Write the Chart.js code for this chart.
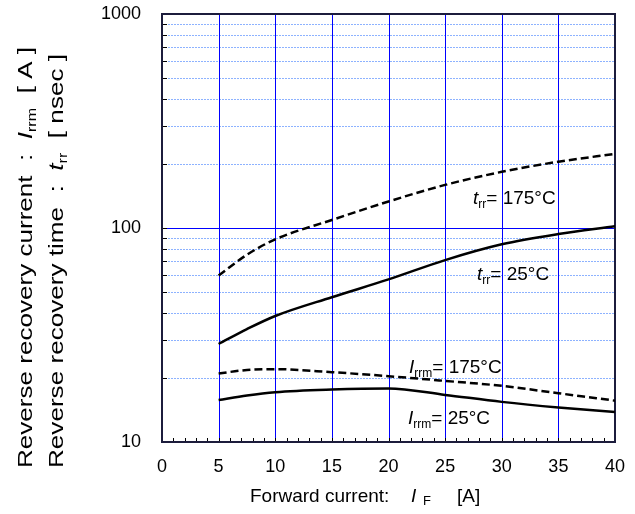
<!DOCTYPE html>
<html><head><meta charset="utf-8">
<script src="https://cdn.jsdelivr.net/npm/chart.js@4/dist/chart.umd.min.js"></script>
<style>html,body{margin:0;padding:0;background:#fff}</style>
</head><body>
<canvas id="c" width="635" height="514"></canvas>
<script>
// ---- data ----
const forwardCurrent = [5, 7.5, 10, 15, 20, 25, 30, 35, 40];
const trr175 = [60, 75, 88.5, 109, 133, 159, 183, 204, 222];
const trr25 = [28.7, 33.7, 38.8, 47.5, 57.5, 70.8, 83.9, 93.7, 101.8];
const irrm175 = [20.9, 21.7, 21.9, 21.2, 20.3, 19.3, 18.3, 16.9, 15.6];
const irrm25 = [15.7, 16.5, 17.1, 17.6, 17.8, 16.6, 15.4, 14.5, 13.8];
const xTickLabels = [0, 5, 10, 15, 20, 25, 30, 35, 40];
const yTickLabels = [10, 100, 1000];

const FONT = '"Liberation Sans", Arial, sans-serif';
const pts = arr => forwardCurrent.map((x, i) => ({x: x, y: arr[i]}));

function richWidth(ctx, parts, size, subSize) {
  let w = 0;
  for (const p of parts) {
    ctx.font = (p.italic ? 'italic ' : '') + (p.sub ? subSize : size) + 'px ' + FONT;
    w += ctx.measureText(p.t).width;
  }
  return w;
}
function drawRich(ctx, x, y, parts, size, subSize, subDy) {
  let cx = x;
  for (const p of parts) {
    const fs = p.sub ? subSize : size;
    ctx.font = (p.italic ? 'italic ' : '') + fs + 'px ' + FONT;
    const px = (p.x !== undefined) ? p.x : cx;
    ctx.fillText(p.t, px, y + (p.sub ? subDy : 0));
    cx = px + ctx.measureText(p.t).width;
  }
}
function drawRotRich(ctx, x, y, parts, size, subSize, subDy, len) {
  ctx.save();
  ctx.translate(x, y);
  ctx.rotate(-Math.PI / 2);
  ctx.scale(len / richWidth(ctx, parts, size, subSize), 1);
  drawRich(ctx, 0, 0, parts, size, subSize, subDy);
  ctx.restore();
}

const decor = {
  id: 'decor',
  beforeDatasetsDraw(chart) {
    const ctx = chart.ctx, a = chart.chartArea;
    const xs = chart.scales.x, ys = chart.scales.y;
    ctx.save();
    // minor horizontal grid (dotted light blue)
    ctx.strokeStyle = '#8db2ff';
    ctx.lineWidth = 1;
    ctx.setLineDash([2, 1]);
    for (let d = 10; d < 1000; d *= 10) {
      for (let m = 2; m <= 9; m++) {
        const py = Math.round(ys.getPixelForValue(d * m)) + 0.5;
        ctx.beginPath(); ctx.moveTo(a.left, py); ctx.lineTo(a.right, py); ctx.stroke();
      }
    }
    ctx.setLineDash([]);
    // major horizontal
    ctx.strokeStyle = '#0000ff';
    const p100 = Math.round(ys.getPixelForValue(100)) + 0.5;
    ctx.beginPath(); ctx.moveTo(a.left, p100); ctx.lineTo(a.right, p100); ctx.stroke();
    // vertical grid
    for (let v = 5; v < 40; v += 5) {
      const px = Math.round(xs.getPixelForValue(v)) + 0.5;
      ctx.beginPath(); ctx.moveTo(px, a.top); ctx.lineTo(px, a.bottom); ctx.stroke();
    }
    // ticks
    ctx.strokeStyle = '#000';
    for (let d = 10; d < 1000; d *= 10) {
      for (let m = 1; m <= 9; m++) {
        const py = Math.round(ys.getPixelForValue(d * m)) + 0.5;
        ctx.beginPath(); ctx.moveTo(a.left, py); ctx.lineTo(a.left + 5, py); ctx.stroke();
      }
    }
    for (let v = 1; v < 40; v++) {
      const px = Math.round(xs.getPixelForValue(v)) + 0.5;
      ctx.beginPath(); ctx.moveTo(px, a.bottom); ctx.lineTo(px, a.bottom - 4); ctx.stroke();
    }
    // frame
    ctx.strokeStyle = '#1c1c3c';
    ctx.lineWidth = 2;
    ctx.strokeRect(a.left, a.top, a.right - a.left, a.bottom - a.top);
    ctx.restore();
  },
  afterDraw(chart) {
    const ctx = chart.ctx;
    ctx.save();
    ctx.fillStyle = '#000';
    ctx.textBaseline = 'alphabetic';
    ctx.textAlign = 'left';
    // curve labels
    drawRich(ctx, 473, 204, [{t: 't', italic: true}, {t: 'rr', sub: true}, {t: '= 175°C'}], 19, 12, 4);
    drawRich(ctx, 477, 280, [{t: 't', italic: true}, {t: 'rr', sub: true}, {t: '= 25°C'}], 19, 12, 4);
    drawRich(ctx, 409, 373, [{t: 'I', italic: true}, {t: 'rrm', sub: true}, {t: '= 175°C'}], 19, 12, 4);
    drawRich(ctx, 408, 424, [{t: 'I', italic: true}, {t: 'rrm', sub: true}, {t: '= 25°C'}], 19, 12, 4);
    // x title
    drawRich(ctx, 250, 502, [{t: 'Forward current:'}, {t: 'I', italic: true, x: 411}, {t: 'F', sub: true, x: 423}, {t: '[A]', x: 457}], 19, 13, 3);
    // y title (rotated, two lines)
    drawRotRich(ctx, 32, 468, [{t: 'Reverse recovery current  :  '}, {t: 'I', italic: true}, {t: 'rrm', sub: true}, {t: '  [ A ]'}], 21, 13, 4, 421);
    drawRotRich(ctx, 63, 468, [{t: 'Reverse recovery time  :  '}, {t: 't', italic: true}, {t: 'rr', sub: true}, {t: '  [ nsec ]'}], 21, 13, 4, 414);
    ctx.restore();
  }
};

const lineStyle = (dash) => ({
  borderColor: '#000', borderWidth: 2.5, borderDash: dash, pointRadius: 0,
  tension: 0.4, cubicInterpolationMode: 'monotone', fill: false
});

new Chart(document.getElementById('c'), {
  type: 'line',
  data: {
    datasets: [
      Object.assign({label: 'trr 175°C', data: pts(trr175)}, lineStyle([8, 4])),
      Object.assign({label: 'trr 25°C', data: pts(trr25)}, lineStyle([])),
      Object.assign({label: 'Irrm 175°C', data: pts(irrm175)}, lineStyle([8, 4])),
      Object.assign({label: 'Irrm 25°C', data: pts(irrm25)}, lineStyle([]))
    ]
  },
  options: {
    responsive: false, animation: false, devicePixelRatio: 1,
    layout: {padding: {left: 0, top: 14, right: 20, bottom: 0}},
    plugins: {legend: {display: false}, tooltip: {enabled: false}},
    scales: {
      x: {
        type: 'linear', min: 0, max: 40,
        afterBuildTicks: s => { s.ticks = xTickLabels.map(v => ({value: v})); },
        afterFit: s => { s.height = 72; s.paddingLeft = 0; s.paddingRight = 0; },
        grid: {display: false, drawTicks: false}, border: {display: false},
        ticks: {font: {family: FONT, size: 18}, color: '#000', padding: 14, maxRotation: 0, autoSkip: false}
      },
      y: {
        type: 'logarithmic', min: 10, max: 1000,
        afterBuildTicks: s => { s.ticks = yTickLabels.map(v => ({value: v})); },
        afterFit: s => { s.width = 162; s.paddingTop = 0; s.paddingBottom = 0; },
        grid: {display: false, drawTicks: false}, border: {display: false},
        ticks: {font: {family: FONT, size: 18}, color: '#000', padding: 21, autoSkip: false,
          callback: v => String(v)}
      }
    }
  },
  plugins: [decor]
});
</script>
</body></html>
